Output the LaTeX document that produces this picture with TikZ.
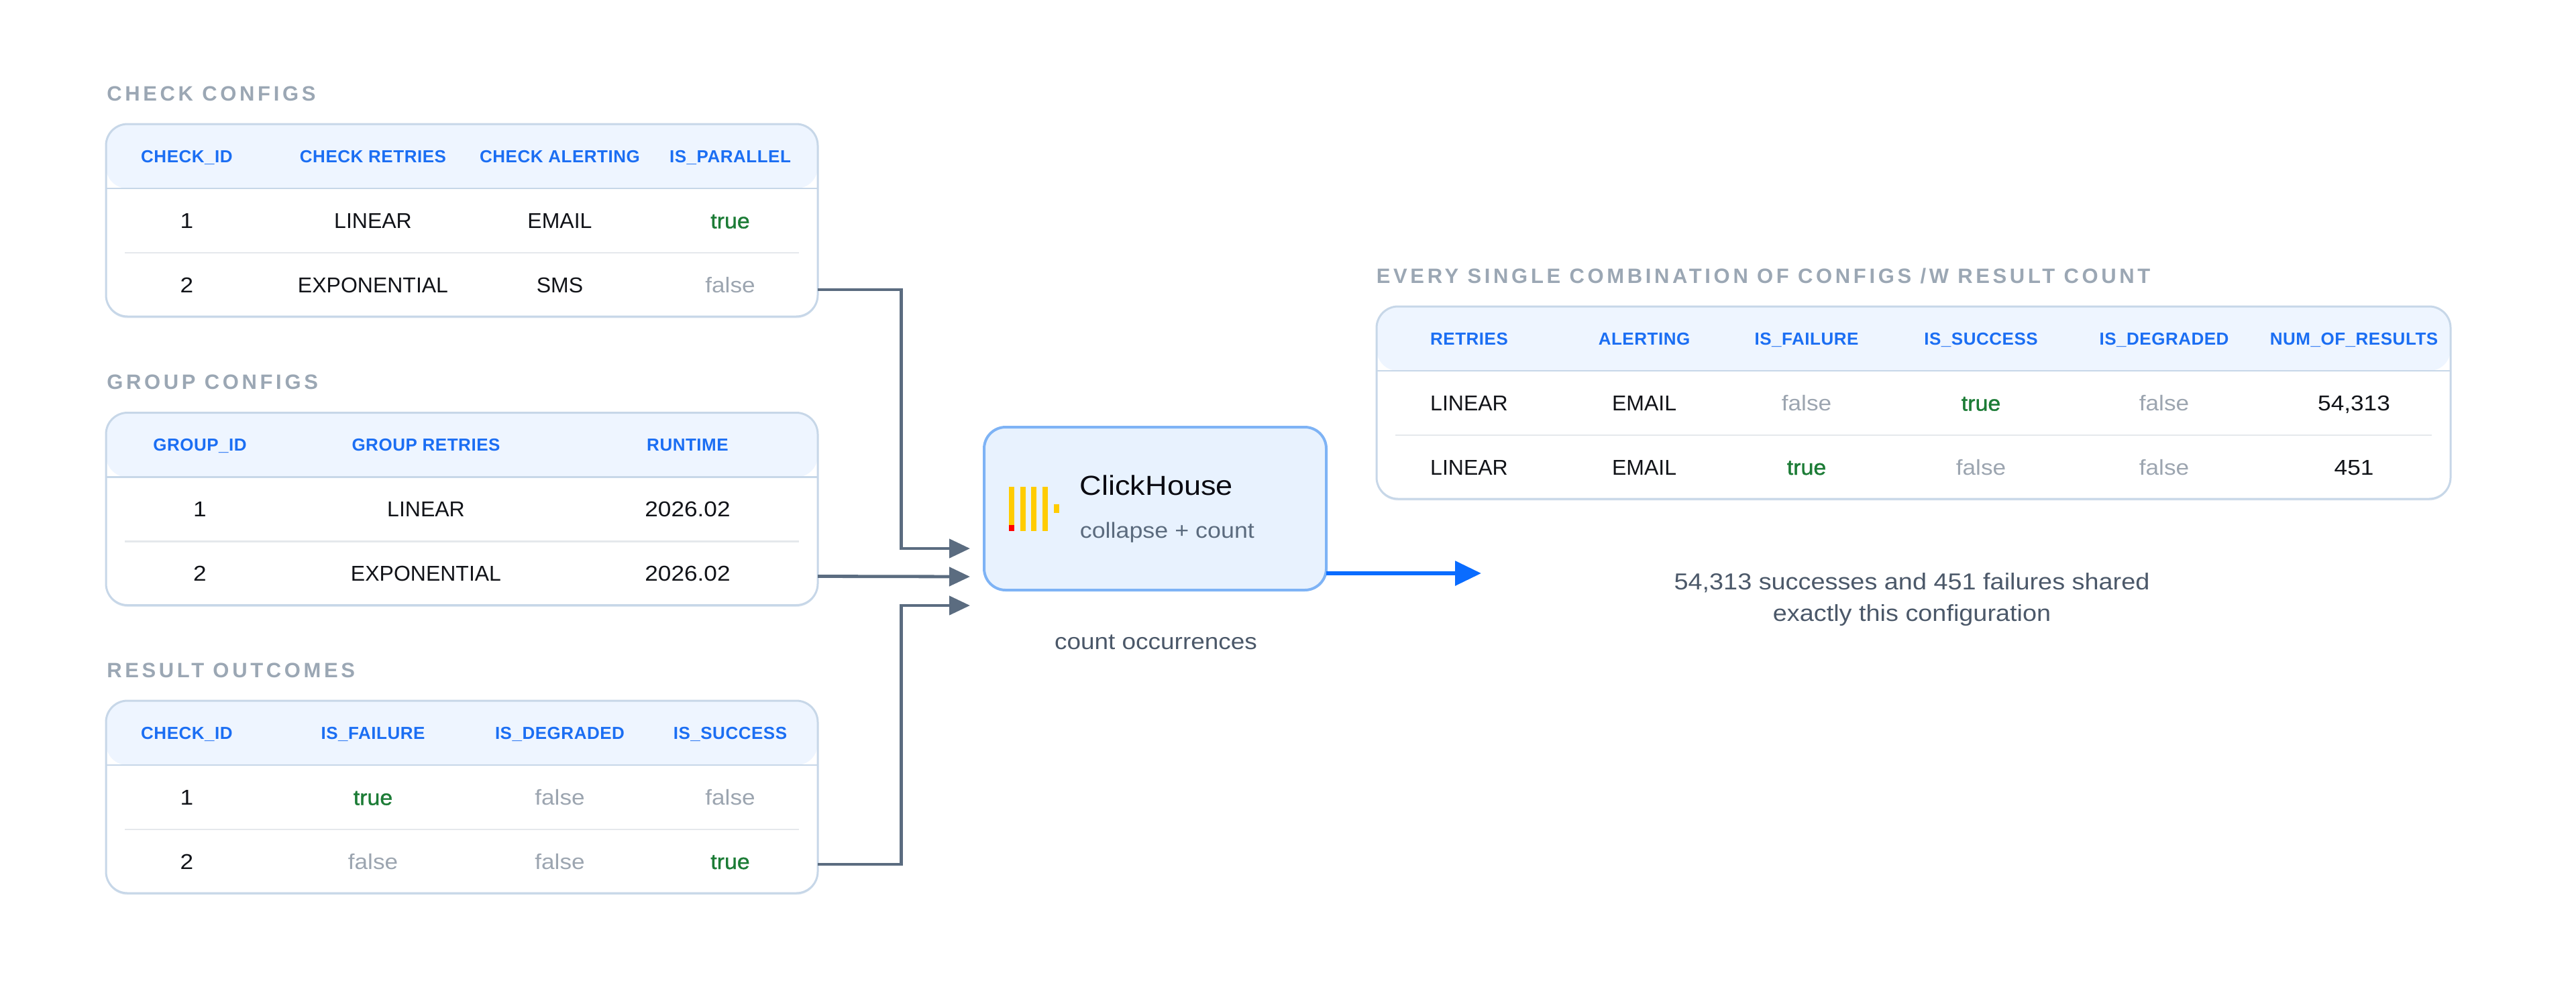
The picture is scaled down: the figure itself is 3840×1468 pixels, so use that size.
\documentclass[tikz,border=0pt]{standalone}
\usepackage{fontspec}
\setmainfont{Liberation Sans}
\newfontfamily\wfont{Liberation Sans}[FakeStretch=1.1]
\newfontfamily\medfont{Liberation Sans}[FakeStretch=1.06,FakeBold=1.2]
\newfontfamily\headfont{Liberation Sans}[LetterSpace=2]
\newfontfamily\titlefont{Liberation Sans}[LetterSpace=15]
\usetikzlibrary{arrows.meta,calc,shadows}
\definecolor{titlegray}{HTML}{9BA7B4}
\definecolor{headblue}{HTML}{1B6EF3}
\definecolor{headfill}{HTML}{EEF5FF}
\definecolor{tblborder}{HTML}{C7D7E8}
\definecolor{sepgray}{HTML}{E5E8EC}
\definecolor{bodyblack}{HTML}{111318}
\definecolor{truegreen}{HTML}{1C7C36}
\definecolor{falsegray}{HTML}{9CA5B0}
\definecolor{conncol}{HTML}{5B6C80}
\definecolor{chfill}{HTML}{E8F2FE}
\definecolor{chborder}{HTML}{7EB3F5}
\definecolor{flowblue}{HTML}{0A6CFF}
\definecolor{chyellow}{HTML}{FFCC00}
\definecolor{chred}{HTML}{FF0000}
\definecolor{chtext}{HTML}{0B0B12}
\definecolor{subgray}{HTML}{5B6B7E}
\definecolor{notegray}{HTML}{4B5869}
\newcommand\tablelines[1]{%
  \draw[headline] ([yshift=-24pt]#1.north west) -- ([yshift=-24pt]#1.north east);
  \draw[rowsep] ([xshift=7pt,yshift=-48pt]#1.north west) -- ([xshift=-7pt,yshift=-48pt]#1.north east);}
\begin{document}
\begin{tikzpicture}[x=0.25pt,y=-0.25pt,
  tbl/.style={draw=tblborder, line width=0.75pt, fill=white, rounded corners=8pt,
    outer sep=0pt, inner sep=0pt, minimum height=71.75pt,
    drop shadow={shadow xshift=0pt, shadow yshift=-0.6pt, fill=tblborder, opacity=0.5},
    path picture={\fill[headfill] (path picture bounding box.north west) rectangle ([yshift=-24pt]path picture bounding box.north east);}},
  headline/.style={draw=tblborder, line width=0.7pt},
  rowsep/.style={draw=sepgray, line width=0.6pt},
  ttl/.style={anchor=base west, inner sep=0pt, text=titlegray, font=\titlefont\bfseries\fontsize{7.75pt}{9pt}\selectfont},
  cellh/.style={anchor=base, inner sep=0pt, text=headblue, font=\headfont\bfseries\fontsize{6.5pt}{8pt}\selectfont},
  cellv/.style={anchor=base, inner sep=0pt, text=bodyblack, font=\fontsize{8pt}{9pt}\selectfont},
  celln/.style={anchor=base, inner sep=0pt, text=bodyblack, font=\wfont\fontsize{8pt}{9pt}\selectfont},
  cellt/.style={anchor=base, inner sep=0pt, text=truegreen, font=\medfont\fontsize{8pt}{9pt}\selectfont},
  cellf/.style={anchor=base, inner sep=0pt, text=falsegray, font=\wfont\fontsize{8pt}{9pt}\selectfont},
  conn/.style={draw=conncol, line width=1.2pt, -{Triangle[length=7.75pt,width=7pt]}},
  flow/.style={draw=flowblue, line width=1.5pt, -{Triangle[length=9.75pt,width=9pt]}},
  chbox/.style={draw=chborder, line width=1pt, fill=chfill, rounded corners=8pt,
    outer sep=0pt, inner sep=0pt, minimum width=127.5pt, minimum height=60.75pt}
]
\useasboundingbox (0,0) rectangle (3840,1468);
\fill[white] (0,0) rectangle (3840,1468);

% ---------- titles ----------
\node[ttl] (ttl1) at (158.5,150.5) {CHECK CONFIGS};
\node[ttl] (ttl2) at (158.5,580.5) {GROUP CONFIGS};
\node[ttl] (ttl3) at (158.5,1010.5) {RESULT OUTCOMES};
\node[ttl] (ttl4) at (2051,422.5) {EVERY SINGLE COMBINATION OF CONFIGS /W RESULT COUNT};

% ---------- table frames ----------
\node[tbl, minimum width=265.25pt] (t1) at (688.5,328.5) {};
\node[tbl, minimum width=265.25pt] (t2) at (688.5,759) {};
\node[tbl, minimum width=265.25pt] (t3) at (688.5,1188.5) {};
\node[tbl, minimum width=400.25pt] (t4) at (2852.5,600.5) {};
\tablelines{t1}
\tablelines{t2}
\tablelines{t3}
\tablelines{t4}

% ---------- table 1 ----------
\node[cellh] (t1h1) at (278.5,242) {CHECK\_ID};
\node[cellh] (t1h2) at (556,242) {CHECK RETRIES};
\node[cellh] (t1h3) at (834.5,242) {CHECK ALERTING};
\node[cellh] (t1h4) at (1088.5,242) {IS\_PARALLEL};
\node[celln] (t1a1) at (278.5,340.5) {1};
\node[cellv] (t1a2) at (556,340.5) {LINEAR};
\node[cellv] (t1a3) at (834.5,340.5) {EMAIL};
\node[cellt] (t1a4) at (1088.5,340.5) {true};
\node[celln] (t1b1) at (278.5,436) {2};
\node[cellv] (t1b2) at (556,436) {EXPONENTIAL};
\node[cellv] (t1b3) at (834.5,436) {SMS};
\node[cellf] (t1b4) at (1088.5,436) {false};

% ---------- table 2 ----------
\node[cellh] (t2h1) at (298,672) {GROUP\_ID};
\node[cellh] (t2h2) at (635,672) {GROUP RETRIES};
\node[cellh] (t2h3) at (1025,672) {RUNTIME};
\node[celln] (t2a1) at (298,770.5) {1};
\node[cellv] (t2a2) at (635,770.5) {LINEAR};
\node[celln] (t2a3) at (1025,770.5) {2026.02};
\node[celln] (t2b1) at (298,866) {2};
\node[cellv] (t2b2) at (635,866) {EXPONENTIAL};
\node[celln] (t2b3) at (1025,866) {2026.02};

% ---------- table 3 ----------
\node[cellh] (t3h1) at (278.5,1102) {CHECK\_ID};
\node[cellh] (t3h2) at (556,1102) {IS\_FAILURE};
\node[cellh] (t3h3) at (834.5,1102) {IS\_DEGRADED};
\node[cellh] (t3h4) at (1088.5,1102) {IS\_SUCCESS};
\node[celln] (t3a1) at (278.5,1200.5) {1};
\node[cellt] (t3a2) at (556,1200.5) {true};
\node[cellf] (t3a3) at (834.5,1200.5) {false};
\node[cellf] (t3a4) at (1088.5,1200.5) {false};
\node[celln] (t3b1) at (278.5,1296) {2};
\node[cellf] (t3b2) at (556,1296) {false};
\node[cellf] (t3b3) at (834.5,1296) {false};
\node[cellt] (t3b4) at (1088.5,1296) {true};

% ---------- table 4 ----------
\node[cellh] (t4h1) at (2190,514) {RETRIES};
\node[cellh] (t4h2) at (2451,514) {ALERTING};
\node[cellh] (t4h3) at (2693,514) {IS\_FAILURE};
\node[cellh] (t4h4) at (2953,514) {IS\_SUCCESS};
\node[cellh] (t4h5) at (3226,514) {IS\_DEGRADED};
\node[cellh] (t4h6) at (3509,514) {NUM\_OF\_RESULTS};
\node[cellv] (t4a1) at (2190,612.5) {LINEAR};
\node[cellv] (t4a2) at (2451,612.5) {EMAIL};
\node[cellf] (t4a3) at (2693,612.5) {false};
\node[cellt] (t4a4) at (2953,612.5) {true};
\node[cellf] (t4a5) at (3226,612.5) {false};
\node[celln] (t4a6) at (3509,612.5) {54,313};
\node[cellv] (t4b1) at (2190,708) {LINEAR};
\node[cellv] (t4b2) at (2451,708) {EMAIL};
\node[cellt] (t4b3) at (2693,708) {true};
\node[cellf] (t4b4) at (2953,708) {false};
\node[cellf] (t4b5) at (3226,708) {false};
\node[celln] (t4b6) at (3509,708) {451};

% ---------- ClickHouse box ----------
\node[chbox] (ch) at (1722,758.5) {};
\fill[chyellow] (1504,726) rectangle (1512,792);
\fill[chyellow] (1521,726) rectangle (1529,792);
\fill[chyellow] (1537,726) rectangle (1545,792);
\fill[chyellow] (1554,726) rectangle (1562,792);
\fill[chyellow] (1571,752) rectangle (1579,765);
\fill[chred] (1504,783) rectangle (1512,792);
\node[anchor=base west, inner sep=0pt, text=chtext, font=\wfont\fontsize{10.25pt}{12pt}\selectfont] (chname) at (1609,738) {ClickHouse};
\node[anchor=base west, inner sep=0pt, text=subgray, font=\wfont\fontsize{8.15pt}{10pt}\selectfont] (chsub) at (1609,802.5) {collapse + count};
\node[anchor=base, inner sep=0pt, text=notegray, font=\wfont\fontsize{8.4pt}{10pt}\selectfont] (occ) at (1723,968) {count occurrences};

% ---------- connectors ----------
\coordinate (c1s) at ($(t1.south east)+(0,-40)$);
\coordinate (c2s) at ($(t2.south east)+(0,-43)$);
\coordinate (c3s) at ($(t3.south east)+(0,-43)$);
\coordinate (in1) at ($(ch.west)+(-21,59.5)$);
\coordinate (in2) at ($(ch.west)+(-21,101.5)$);
\coordinate (in3) at ($(ch.west)+(-21,144.5)$);
\draw[conn] (c1s) -- ++(124.7,0) |- (in1);
\draw[conn] (c2s) -- (in2);
\draw[conn] (c3s) -- ++(124.7,0) |- (in3);

\coordinate (outs) at ($(ch.east)+(0,96.5)$);
\coordinate (oute) at ($(ch.east)+(231,96.5)$);
\draw[flow] (outs) -- (oute);

% ---------- note ----------
\node[anchor=base, inner sep=0pt, text=notegray, font=\wfont\fontsize{8.6pt}{11pt}\selectfont] (expl1) at (2850,879) {54,313 successes and 451 failures shared};
\node[anchor=base, inner sep=0pt, text=notegray, font=\wfont\fontsize{8.6pt}{11pt}\selectfont] (expl2) at (2850,926) {exactly this configuration};
\end{tikzpicture}
\end{document}
